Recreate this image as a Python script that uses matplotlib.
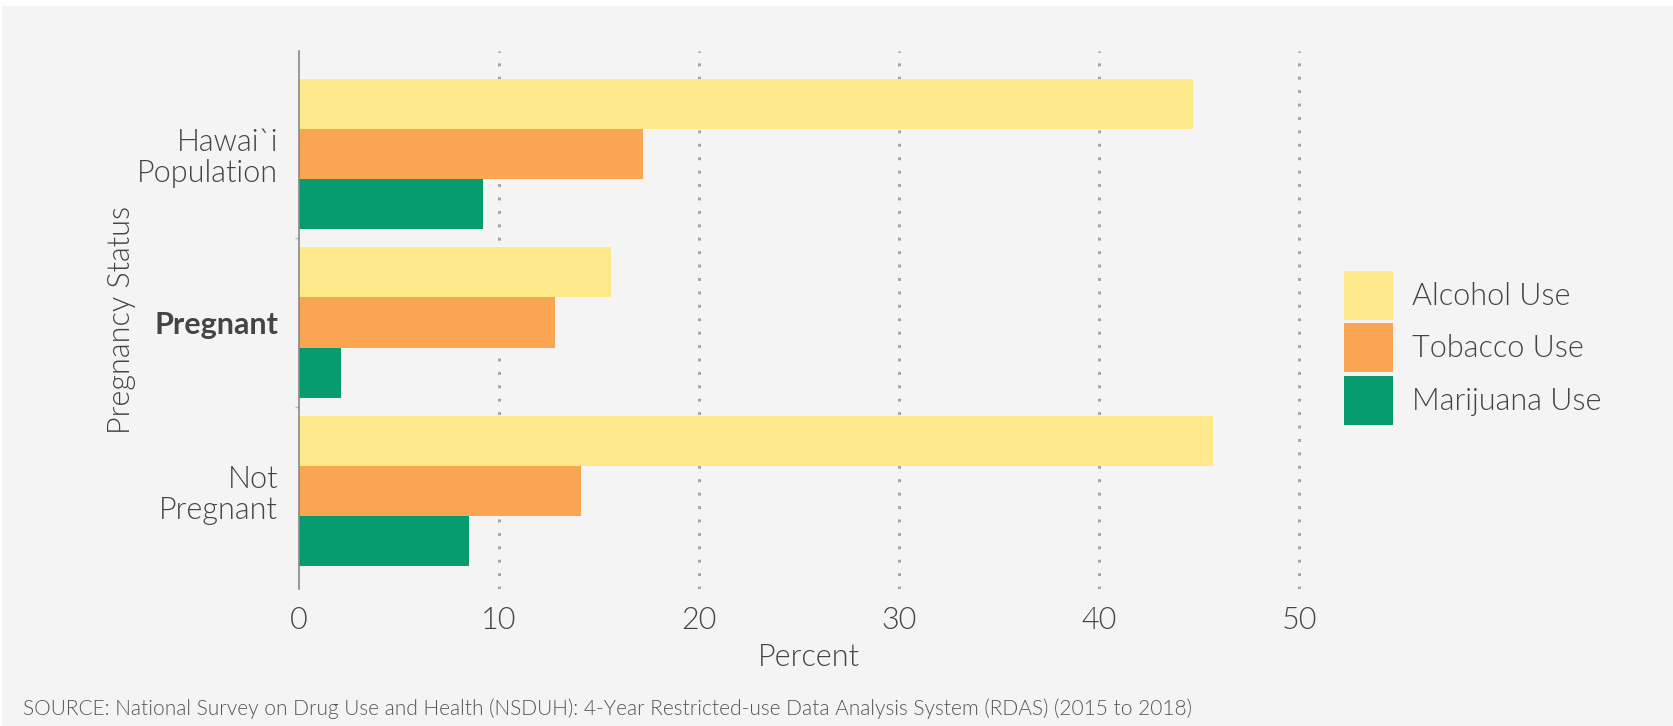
import numpy as np
import matplotlib
matplotlib.use("Agg")
import matplotlib.pyplot as plt
from matplotlib.patches import Patch

# data (percent)
groups = ["Hawai`i\nPopulation", "Pregnant", "Not\nPregnant"]
series = ["Alcohol Use", "Tobacco Use", "Marijuana Use"]
alcohol = [44.7, 15.6, 45.7]
tobacco = [17.2, 12.8, 14.1]
marijuana = [9.2, 2.1, 8.5]
xticks = [0, 10, 20, 30, 40, 50]
source = "SOURCE: National Survey on Drug Use and Health (NSDUH): 4-Year Restricted-use Data Analysis System (RDAS) (2015 to 2018)"

colors = ["#FEE98A", "#F9A551", "#079C70"]
txt = "#444444"
bg = "#F4F4F4"
W = 300  # Lato Light
FS = 22

plt.rcParams["font.family"] = ["Lato", "DejaVu Sans"]

fig = plt.figure(figsize=(16.73, 7.26), dpi=100, facecolor="white")
# grey panel with thin white border at top/left
fig.patches.append(plt.Rectangle((0.0012, 0), 1, 0.992, transform=fig.transFigure,
                                 facecolor=bg, edgecolor="none", zorder=-10))
ax = fig.add_axes([0.1787, 0.1887, 0.61, 0.7411])
ax.set_facecolor(bg)

y = np.arange(len(groups))
h = 0.297
for i, (vals, c) in enumerate(zip([alcohol, tobacco, marijuana], colors)):
    ax.barh(y + (i - 1) * h, vals, height=h, color=c, zorder=3)

ax.set_ylim(2.58, -0.61)
ax.set_xlim(0, 51)

for xv in xticks[1:]:
    ax.axvline(xv, color="#A4A4A4", lw=2.1, ls=(0, (1, 3.6)), zorder=1)

for s in ["top", "right", "bottom"]:
    ax.spines[s].set_visible(False)
ax.spines["left"].set_color("#888888")
ax.spines["left"].set_linewidth(1.2)
ax.spines["left"].set_zorder(4)

ax.set_xticks(xticks)
ax.set_xticklabels([str(v) for v in xticks], fontsize=FS, color=txt, fontweight=W)
ax.set_yticks(y)
ax.set_yticklabels(groups, fontsize=FS, color=txt, fontweight=W, linespacing=1.1)
ax.get_yticklabels()[1].set_fontweight("bold")
ax.set_yticks([0.5, 1.5], minor=True)
ax.tick_params(axis="both", length=0)
ax.tick_params(axis="y", which="minor", length=3, width=1, color="#BBBBBB")
ax.tick_params(axis="x", pad=12)
ax.tick_params(axis="y", pad=15)

ax.set_xlabel("Percent", fontsize=FS, color=txt, fontweight=W, labelpad=6)
ax.set_ylabel("Pregnancy Status", fontsize=FS, color=txt, fontweight=W, labelpad=1)

handles = [Patch(facecolor=c, label=s) for c, s in zip(colors, series)]
leg = fig.legend(handles=handles, loc="center left", bbox_to_anchor=(0.8034, 0.521),
                 frameon=False, fontsize=FS, handlelength=1.6, handleheight=2.09,
                 labelspacing=0.12, handletextpad=0.62, borderaxespad=0, borderpad=0)
for t in leg.get_texts():
    t.set_color(txt)
    t.set_fontweight(W)

fig.text(0.014, 0.015, source, fontsize=15, color="#555555", fontweight=W)

fig.savefig("out.png", dpi=100, facecolor="white")
